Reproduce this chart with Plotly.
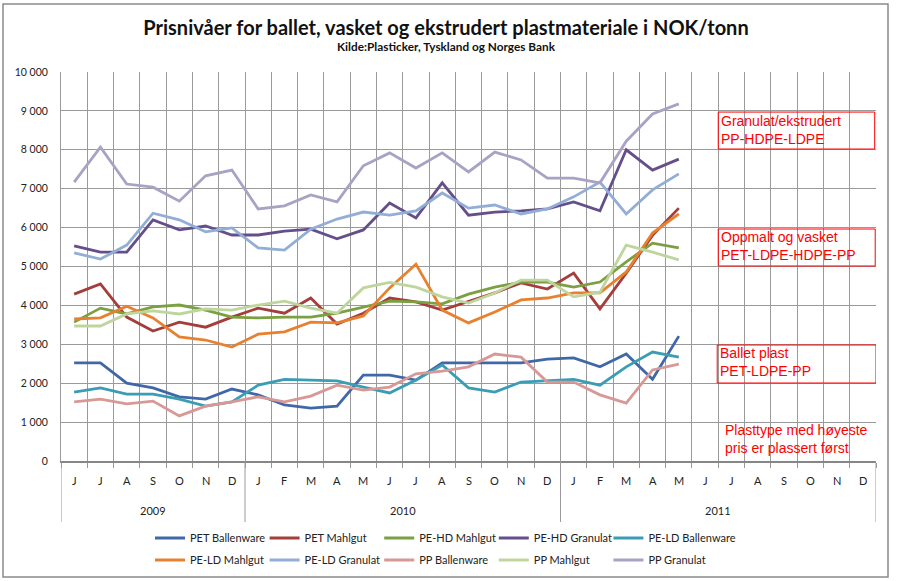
import plotly.graph_objects as go

# ---------------- data ----------------
months = ["J", "J", "A", "S", "O", "N", "D",
          "J", "F", "M", "A", "M", "J", "J", "A", "S", "O", "N", "D",
          "J", "F", "M", "A", "M", "J", "J", "A", "S", "O", "N", "D"]
years = ["2009", "2010", "2011"]
year_sizes = [7, 12, 12]

series_names = ["PET Ballenware", "PET Mahlgut", "PE-HD Mahlgut", "PE-HD Granulat",
                "PE-LD Ballenware", "PE-LD Mahlgut", "PE-LD Granulat",
                "PP Ballenware", "PP Mahlgut", "PP Granulat"]

pet_ballenware = [2520, 2520, 2000, 1880, 1650, 1590, 1850, 1700, 1440, 1360, 1410, 2210,
                  2210, 2080, 2520, 2520, 2520, 2520, 2620, 2650, 2420, 2750, 2100, 3210]
pet_mahlgut = [4290, 4550, 3700, 3340, 3570, 3440, 3700, 3930, 3800, 4190, 3520, 3800,
               4190, 4090, 3880, 4090, 4320, 4580, 4420, 4830, 3910, 4830, 5800, 6500]
pehd_mahlgut = [3570, 3930, 3780, 3960, 4010, 3880, 3700, 3680, 3700, 3700, 3800, 3960,
                4110, 4090, 4040, 4290, 4470, 4600, 4600, 4470, 4600, 5120, 5600, 5480]
pehd_granulat = [5530, 5370, 5370, 6200, 5940, 6040, 5810, 5810, 5910, 5960, 5710, 5940,
                 6630, 6250, 7150, 6320, 6400, 6430, 6480, 6660, 6430, 8000, 7480, 7760]
peld_ballenware = [1770, 1880, 1720, 1720, 1590, 1410, 1520, 1950, 2100, 2080, 2060, 1900,
                   1750, 2080, 2470, 1880, 1770, 2030, 2060, 2100, 1950, 2420, 2800, 2670]
peld_mahlgut = [3650, 3680, 3980, 3680, 3190, 3110, 2930, 3260, 3320, 3570, 3550, 3730,
                4450, 5060, 3880, 3550, 3830, 4140, 4190, 4320, 4320, 4860, 5860, 6350]
peld_granulat = [5350, 5190, 5550, 6370, 6200, 5890, 5990, 5480, 5420, 5960, 6220, 6400,
                 6320, 6430, 6890, 6500, 6580, 6350, 6480, 6790, 7170, 6350, 6970, 7380]
pp_ballenware = [1520, 1590, 1470, 1540, 1160, 1410, 1520, 1650, 1520, 1670, 1950, 1820,
                 1900, 2240, 2310, 2420, 2750, 2670, 2030, 2030, 1700, 1490, 2340, 2490]
pp_mahlgut = [3470, 3470, 3780, 3860, 3780, 3910, 3880, 4010, 4110, 3930, 3800, 4450,
              4590, 4470, 4220, 4060, 4320, 4650, 4650, 4220, 4340, 5550, 5370, 5170]
pp_granulat = [7170, 8070, 7120, 7040, 6680, 7330, 7480, 6480, 6560, 6840, 6660, 7590,
               7920, 7530, 7920, 7430, 7940, 7740, 7270, 7270, 7150, 8220, 8920, 9180]

series_values = [pet_ballenware, pet_mahlgut, pehd_mahlgut, pehd_granulat, peld_ballenware,
                 peld_mahlgut, peld_granulat, pp_ballenware, pp_mahlgut, pp_granulat]

colors = ["#4068A8", "#A53E3B", "#7BA041", "#654F8A", "#3A9DB4",
          "#E8812F", "#93AED6", "#D79896", "#BFD59E", "#A9A2C4"]

# ---------------- figure ----------------
W, H = 898, 581
L, R, T, B = 61, 876, 72, 461
FONT = "Lato"
GRID = "#9A9A9A"

def legend_id(i):
    return "legend" if i == 0 else f"legend{i + 1}"

fig = go.Figure()
for i, (name, vals) in enumerate(zip(series_names, series_values)):
    fig.add_trace(go.Scatter(
        x=list(range(len(vals))), y=vals, name=name, mode="lines",
        line=dict(color=colors[i], width=2.8),
        legend=legend_id(i),
        hoverinfo="skip"))

n = len(months)
bounds = [i - 0.5 for i in range(n + 1)]

def py(pix):  # pixel y -> paper y
    return (B - pix) / (B - T)

def px(pix):  # pixel x -> paper x
    return (pix - L) / (R - L)

annotations = []
# month labels
for i, m in enumerate(months):
    annotations.append(dict(x=i, y=py(480), xref="x", yref="paper", text=m, showarrow=False,
                            font=dict(family=FONT, size=11, color="#222"),
                            xanchor="center", yanchor="middle"))
# year labels + separators
shapes = []
start = 0
for yl, sz in zip(years, year_sizes):
    annotations.append(dict(x=start + (sz - 1) / 2, y=py(510), xref="x", yref="paper", text=yl,
                            showarrow=False, font=dict(family=FONT, size=11, color="#222"),
                            xanchor="center", yanchor="middle"))
    start += sz
sep_positions = [-0.5]
acc = 0
for sz in year_sizes:
    acc += sz
    sep_positions.append(acc - 0.5)
for sp in sep_positions:
    shapes.append(dict(type="line", xref="x", yref="paper", x0=sp, x1=sp, y0=0, y1=py(522),
                       line=dict(color=GRID, width=1)))

# outer chart border
shapes.append(dict(type="rect", xref="paper", yref="paper", x0=px(3), x1=px(888),
                   y0=py(577), y1=py(4), line=dict(color="#8A8A8A", width=1.5)))

# red boxes
red = "#FF0000"
boxes = [(24.5, 30.45, 8020, 8970), (24.5, 30.47, 5013, 5964), (24.46, 30.5, 2005, 2982)]
for x0, x1, y0, y1 in boxes:
    shapes.append(dict(type="rect", xref="x", yref="y", x0=x0, x1=x1, y0=y0, y1=y1,
                       line=dict(color=red, width=1)))

notes = [("Granulat/ekstrudert<br>PP-HDPE-LDPE", 24.5, 8510),
         ("Oppmalt og vasket<br>PET-LDPE-HDPE-PP", 24.5, 5527),
         ("Ballet plast<br>PET-LDPE-PP", 24.46, 2545),
         ("Plasttype med høyeste<br>pris er plassert først", 24.64, 578)]
for txt, x, y in notes:
    annotations.append(dict(x=x, y=y, xref="x", yref="y", text=txt, showarrow=False,
                            xanchor="left", yanchor="middle", align="left", xshift=1,
                            font=dict(family="Liberation Sans, Arial", size=14, color=red)))

# subtitle
annotations.append(dict(x=px(446), y=py(46), xref="paper", yref="paper",
                        text="<b>Kilde:Plasticker, Tyskland og Norges Bank</b>", showarrow=False,
                        xanchor="center", yanchor="middle",
                        font=dict(family=FONT, size=11.8, color="#111")))

legend_font = dict(family=FONT, size=11, color="#222")
legends = {}
for i in range(len(series_names)):
    col, row = i % 5, i // 5
    xpix = 150 + col * 114.6
    ypix = 538 + row * 22
    legends[legend_id(i)] = dict(orientation="h", xref="container", yref="container",
                                 x=xpix / W, y=1 - ypix / H, xanchor="left", yanchor="middle",
                                 itemwidth=30, font=legend_font, bgcolor="rgba(0,0,0,0)")

fig.update_layout(
    width=W, height=H,
    margin=dict(l=L, r=W - R, t=T, b=H - B, pad=0),
    paper_bgcolor="white", plot_bgcolor="white",
    separators=", ",
    title=dict(text="<b>Prisnivåer for ballet, vasket og ekstrudert plastmateriale i NOK/tonn</b>",
               x=(446 / W), xanchor="center", xref="container",
               y=1 - 28 / H, yanchor="middle", yref="container",
               font=dict(family=FONT, size=20, color="#111")),
    xaxis=dict(range=[-0.5, n - 0.5], tickmode="array", tickvals=bounds,
               showticklabels=False, showgrid=True, gridcolor=GRID, gridwidth=1,
               ticks="outside", ticklen=5, tickcolor=GRID, tickwidth=1,
               showline=True, linecolor="#868686", linewidth=2, zeroline=False,
               fixedrange=True),
    yaxis=dict(range=[0, 10000], dtick=1000, tick0=0, tickformat=",d",
               showgrid=True, gridcolor=GRID, gridwidth=1,
               showline=True, linecolor=GRID, linewidth=1, zeroline=False,
               ticks="outside", ticklen=10, tickcolor="rgba(0,0,0,0)",
               tickfont=dict(family=FONT, size=10.5, color="#222"), fixedrange=True),
    annotations=annotations,
    shapes=shapes,
    showlegend=True,
)
fig.update_layout(legends)

fig.write_html("out.html", config={"displayModeBar": False},
               post_script="document.body.style.margin='0';document.body.style.padding='0';")
